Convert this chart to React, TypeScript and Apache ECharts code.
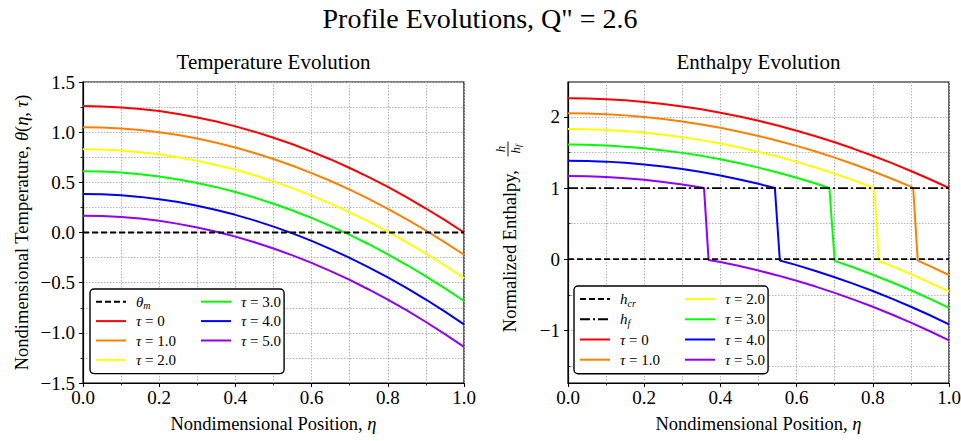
import React, { useEffect, useRef } from 'react';
import * as echarts from 'echarts';

const FONT = '"Liberation Serif", "Times New Roman", serif';

// ---------- data ----------
const etaGrid = [0, 0.05, 0.1, 0.15, 0.2, 0.25, 0.3, 0.35, 0.4, 0.45, 0.5, 0.55, 0.6, 0.65, 0.7, 0.75, 0.8, 0.85, 0.9, 0.95, 1.0];

const tauNames = ['τ = 0', 'τ = 1.0', 'τ = 2.0', 'τ = 3.0', 'τ = 4.0', 'τ = 5.0'];
const tauColors = ['#ff0000', '#ff8000', '#ffff00', '#00ff00', '#0000ff', '#8f00ff'];

// Temperature profiles theta(eta, tau) at etaGrid
const thetaTau0 = [1.26, 1.257, 1.247, 1.232, 1.21, 1.181, 1.147, 1.106, 1.058, 1.005, 0.945, 0.879, 0.806, 0.728, 0.643, 0.551, 0.454, 0.35, 0.239, 0.123, 0.0];
const thetaTau1 = [1.05, 1.047, 1.037, 1.021, 0.999, 0.971, 0.936, 0.894, 0.847, 0.792, 0.732, 0.665, 0.592, 0.513, 0.427, 0.335, 0.236, 0.131, 0.02, -0.098, -0.222];
const thetaTau2 = [0.83, 0.827, 0.817, 0.801, 0.779, 0.75, 0.714, 0.673, 0.625, 0.57, 0.509, 0.442, 0.368, 0.288, 0.201, 0.108, 0.008, -0.098, -0.21, -0.329, -0.454];
const thetaTau3 = [0.61, 0.607, 0.597, 0.581, 0.558, 0.529, 0.494, 0.452, 0.403, 0.348, 0.287, 0.219, 0.145, 0.064, -0.024, -0.117, -0.218, -0.324, -0.437, -0.557, -0.683];
const thetaTau4 = [0.384, 0.381, 0.371, 0.355, 0.332, 0.303, 0.267, 0.225, 0.176, 0.121, 0.059, -0.009, -0.084, -0.165, -0.253, -0.347, -0.447, -0.555, -0.668, -0.788, -0.915];
const thetaTau5 = [0.168, 0.165, 0.155, 0.139, 0.116, 0.086, 0.05, 0.008, -0.041, -0.097, -0.159, -0.228, -0.303, -0.385, -0.473, -0.568, -0.669, -0.777, -0.892, -1.013, -1.14];
const thetaSets = [thetaTau0, thetaTau1, thetaTau2, thetaTau3, thetaTau4, thetaTau5];

// Enthalpy profiles h/hf (positions and values)
const enthEtaTau0 = [0, 0.05, 0.1, 0.15, 0.2, 0.25, 0.3, 0.35, 0.4, 0.45, 0.5, 0.55, 0.6, 0.65, 0.7, 0.75, 0.8, 0.85, 0.9, 0.95, 1.0];
const enthTau0 = [2.26, 2.257, 2.247, 2.232, 2.21, 2.181, 2.147, 2.106, 2.058, 2.005, 1.945, 1.879, 1.806, 1.728, 1.643, 1.551, 1.454, 1.35, 1.239, 1.123, 1.0];
const enthEtaTau1 = [0, 0.05, 0.1, 0.15, 0.2, 0.25, 0.3, 0.35, 0.4, 0.45, 0.5, 0.55, 0.6, 0.65, 0.7, 0.75, 0.8, 0.85, 0.9, 0.906, 0.918, 0.95, 1.0];
const enthTau1 = [2.05, 2.047, 2.037, 2.021, 1.999, 1.971, 1.936, 1.894, 1.847, 1.792, 1.732, 1.665, 1.592, 1.513, 1.427, 1.335, 1.236, 1.131, 1.02, 1.0, -0.02, -0.098, -0.222];
const enthEtaTau2 = [0, 0.05, 0.1, 0.15, 0.2, 0.25, 0.3, 0.35, 0.4, 0.45, 0.5, 0.55, 0.6, 0.65, 0.7, 0.75, 0.8, 0.804, 0.816, 0.85, 0.9, 0.95, 1.0];
const enthTau2 = [1.83, 1.827, 1.817, 1.801, 1.779, 1.75, 1.714, 1.673, 1.625, 1.57, 1.509, 1.442, 1.368, 1.288, 1.201, 1.108, 1.008, 1.0, -0.025, -0.098, -0.21, -0.329, -0.454];
const enthEtaTau3 = [0, 0.05, 0.1, 0.15, 0.2, 0.25, 0.3, 0.35, 0.4, 0.45, 0.5, 0.55, 0.6, 0.65, 0.686, 0.7, 0.75, 0.8, 0.85, 0.9, 0.95, 1.0];
const enthTau3 = [1.61, 1.607, 1.597, 1.581, 1.558, 1.529, 1.494, 1.452, 1.403, 1.348, 1.287, 1.219, 1.145, 1.064, 1.0, -0.024, -0.117, -0.218, -0.324, -0.437, -0.557, -0.683];
const enthEtaTau4 = [0, 0.05, 0.1, 0.15, 0.2, 0.25, 0.3, 0.35, 0.4, 0.45, 0.5, 0.543, 0.556, 0.6, 0.65, 0.7, 0.75, 0.8, 0.85, 0.9, 0.95, 1.0];
const enthTau4 = [1.384, 1.381, 1.371, 1.355, 1.332, 1.303, 1.267, 1.225, 1.176, 1.121, 1.059, 1.0, -0.018, -0.084, -0.165, -0.253, -0.347, -0.447, -0.555, -0.668, -0.788, -0.915];
const enthEtaTau5 = [0, 0.05, 0.1, 0.15, 0.2, 0.25, 0.3, 0.35, 0.357, 0.369, 0.4, 0.45, 0.5, 0.55, 0.6, 0.65, 0.7, 0.75, 0.8, 0.85, 0.9, 0.95, 1.0];
const enthTau5 = [1.168, 1.165, 1.155, 1.139, 1.116, 1.086, 1.05, 1.008, 1.0, -0.01, -0.041, -0.097, -0.159, -0.228, -0.303, -0.385, -0.473, -0.568, -0.669, -0.777, -0.892, -1.013, -1.14];
const enthEtaSets = [enthEtaTau0, enthEtaTau1, enthEtaTau2, enthEtaTau3, enthEtaTau4, enthEtaTau5];
const enthSets = [enthTau0, enthTau1, enthTau2, enthTau3, enthTau4, enthTau5];

// reference lines
const refEta = [0, 1];
const thetaMelt = [0, 0];
const hCritical = [0, 0];
const hFusion = [1, 1];

// axes
const xTicksInterval = 0.2;
const tempYMin = -1.5;
const tempYMax = 1.5;
const enthYMin = -1.74;
const enthYMax = 2.49;
const enthMajorTicks = [-1, 0, 1, 2];
const enthMinorTicks = [-1.5, -0.5, 0.5, 1.5];

// ---------- styles ----------
const GRID_LINE = { color: '#b4b4b4', width: 1, type: [1.5, 1.5] as any };
const fmtMinus = (s: string) => s.replace('-', '\u2212');
const TICK_FS = 19;
const NAME_FS = 18.5;

const axisNameRich = {
  n: { fontFamily: FONT, fontSize: NAME_FS, color: '#000' },
  i: { fontFamily: FONT, fontSize: NAME_FS, fontStyle: 'italic', color: '#000' },
};

const xAxisFor = (gridIndex: number) => ({
  type: 'value',
  gridIndex,
  min: 0,
  max: 1,
  interval: xTicksInterval,
  axisLine: { show: true, onZero: false, lineStyle: { color: '#000', width: 1.2 } },
  axisTick: { show: true, inside: false, length: 4, lineStyle: { color: '#000', width: 1 } },
  minorTick: { show: true, splitNumber: 2, length: 2.5, lineStyle: { color: '#000', width: 0.8 } },
  splitLine: { show: true, lineStyle: GRID_LINE },
  minorSplitLine: { show: true, lineStyle: GRID_LINE },
  axisLabel: { fontFamily: FONT, fontSize: TICK_FS, color: '#000', margin: 5, formatter: (v: number) => v.toFixed(1) },
  name: '{n|Nondimensional Position, }{i|η}',
  nameLocation: 'middle',
  nameGap: 31,
  nameTextStyle: { rich: axisNameRich },
});

const legendRich = (lh: number) => ({
  i: { fontFamily: FONT, fontSize: 15, fontStyle: 'italic', color: '#000', lineHeight: lh },
  r: { fontFamily: FONT, fontSize: 15, color: '#000', lineHeight: lh },
  sub: { fontFamily: FONT, fontSize: 10, fontStyle: 'italic', color: '#000', verticalAlign: 'bottom', lineHeight: lh },
});

const legendFormatter = (name: string) => {
  if (name === 'θm') return '{i|θ}{sub|m}';
  if (name === 'hcr') return '{i|h}{sub|cr}';
  if (name === 'hf') return '{i|h}{sub|f}';
  return '{i|τ}{r|' + name.slice(1) + '}';
};

const makeLegend = (left: number, top: number, names: string[], firstColCount: number, rowH: number) => ({
  show: true,
  orient: 'vertical',
  left,
  top,
  height: rowH * 4 + 4,
  itemWidth: 30,
  itemHeight: 12,
  itemGap: 2,
  padding: [4, 3, 5, 5],
  backgroundColor: '#ffffff',
  borderColor: '#000000',
  borderWidth: 1.4,
  borderRadius: 4,
  selectedMode: false,
  itemStyle: { opacity: 0 },
  textStyle: { fontFamily: FONT, fontSize: 15, color: '#000', lineHeight: rowH - 2, padding: [0, 0, 0, 5], rich: legendRich(rowH - 2) },
  formatter: legendFormatter,
  data: names.map((n, i) => (i < firstColCount ? { name: n, textStyle: { width: 62 } } : { name: n })),
});

function buildOption() {
  const series: any[] = [];
  // left chart
  series.push({
    type: 'line', name: 'θm', xAxisIndex: 0, yAxisIndex: 0,
    data: refEta.map((x, i) => [x, thetaMelt[i]]),
    symbol: 'none', showSymbol: false, silent: true, z: 3,
    lineStyle: { color: '#000', width: 1.8, type: [6, 3] },
    itemStyle: { color: '#000' },
  });
  thetaSets.forEach((vals, k) => {
    series.push({
      type: 'line', name: tauNames[k], xAxisIndex: 0, yAxisIndex: 0,
      data: etaGrid.map((x, i) => [x, vals[i]]),
      symbol: 'none', showSymbol: false, silent: true, z: 2,
      lineStyle: { color: tauColors[k], width: 2 },
      itemStyle: { color: tauColors[k] },
    });
  });
  // right chart
  series.push({
    type: 'line', name: 'hcr', xAxisIndex: 1, yAxisIndex: 1,
    data: refEta.map((x, i) => [x, hCritical[i]]),
    symbol: 'none', showSymbol: false, silent: true, z: 3,
    lineStyle: { color: '#000', width: 1.8, type: [6, 3] },
    itemStyle: { color: '#000' },
  });
  series.push({
    type: 'line', name: 'hf', xAxisIndex: 1, yAxisIndex: 1,
    data: refEta.map((x, i) => [x, hFusion[i]]),
    symbol: 'none', showSymbol: false, silent: true, z: 3,
    lineStyle: { color: '#000', width: 1.8, type: [10, 3, 2, 3] },
    itemStyle: { color: '#000' },
  });
  enthSets.forEach((vals, k) => {
    const xs = enthEtaSets[k];
    series.push({
      type: 'line', name: tauNames[k], xAxisIndex: 1, yAxisIndex: 1,
      data: xs.map((x, i) => [x, vals[i]]),
      symbol: 'none', showSymbol: false, silent: true, z: 2,
      lineStyle: { color: tauColors[k], width: 2 },
      itemStyle: { color: tauColors[k] },
    });
  });

  return {
    animation: false,
    backgroundColor: '#ffffff',
    textStyle: { fontFamily: FONT },
    grid: [
      { left: 83, top: 82, width: 381, height: 301, show: true, borderColor: '#000', borderWidth: 1.2, backgroundColor: 'transparent', outerBoundsMode: 'none' },
      { left: 568, top: 82, width: 381, height: 301, show: true, borderColor: '#000', borderWidth: 1.2, backgroundColor: 'transparent', outerBoundsMode: 'none' },
    ],
    xAxis: [xAxisFor(0), xAxisFor(1)],
    yAxis: [
      {
        type: 'value', gridIndex: 0, min: tempYMin, max: tempYMax, interval: 0.5,
        axisLine: { show: true, onZero: false, lineStyle: { color: '#000', width: 1.2 } },
        axisTick: { show: true, inside: false, length: 4, lineStyle: { color: '#000', width: 1 } },
        minorTick: { show: true, splitNumber: 2, length: 2.5, lineStyle: { color: '#000', width: 0.8 } },
        splitLine: { show: true, lineStyle: GRID_LINE },
        minorSplitLine: { show: true, lineStyle: GRID_LINE },
        axisLabel: { fontFamily: FONT, fontSize: TICK_FS, color: '#000', margin: 8, formatter: (v: number) => fmtMinus(v.toFixed(1)) },
        name: '{n|Nondimensional Temperature, }{i|θ}{n|(}{i|η}{n|, }{i|τ}{n|)}',
        nameLocation: 'middle',
        nameGap: 51.5,
        nameTextStyle: { rich: axisNameRich },
      },
      {
        type: 'value', gridIndex: 1, min: enthYMin, max: enthYMax,
        axisLine: { show: true, onZero: false, lineStyle: { color: '#000', width: 1.2 } },
        axisTick: { show: true, inside: false, length: 4, customValues: enthMajorTicks, lineStyle: { color: '#000', width: 1 } },
        splitLine: { show: true, lineStyle: GRID_LINE },
        axisLabel: { fontFamily: FONT, fontSize: TICK_FS, color: '#000', margin: 8, customValues: enthMajorTicks, formatter: (v: number) => fmtMinus(String(Math.round(v))) },
      },
      {
        type: 'value', gridIndex: 1, min: enthYMin, max: enthYMax, splitNumber: 8,
        axisLine: { show: false },
        axisTick: { show: true, inside: false, length: 2.5, customValues: enthMinorTicks, lineStyle: { color: '#000', width: 0.8 } },
        splitLine: { show: true, lineStyle: GRID_LINE },
        axisLabel: { show: false },
      },
    ],
    legend: [
      makeLegend(90, 289, ['θm', ...tauNames], 4, 19.4),
      makeLegend(574, 286, ['hcr', 'hf', ...tauNames], 4, 20.2),
    ],
    graphic: [
      { type: 'text', x: 480, y: 18, style: { text: 'Profile Evolutions, Q" = 2.6', fill: '#000', fontFamily: FONT, fontSize: 28, align: 'center', verticalAlign: 'middle' } },
      { type: 'text', x: 273.5, y: 62, style: { text: 'Temperature Evolution', fill: '#000', fontFamily: FONT, fontSize: 21, align: 'center', verticalAlign: 'middle' } },
      { type: 'text', x: 758.5, y: 62, style: { text: 'Enthalpy Evolution', fill: '#000', fontFamily: FONT, fontSize: 21, align: 'center', verticalAlign: 'middle' } },
      { type: 'text', x: 510, y: 170, rotation: Math.PI / 2, style: { text: 'Normalized Enthalpy,', fill: '#000', fontFamily: FONT, fontSize: NAME_FS, align: 'right', verticalAlign: 'middle' } },
      {
        type: 'group', x: 508, y: 149, rotation: Math.PI / 2,
        children: [
          { type: 'text', x: 0, y: -7.5, style: { text: 'h', fill: '#000', fontFamily: FONT, fontSize: 13, fontStyle: 'italic', align: 'center', verticalAlign: 'middle' } },
          { type: 'line', shape: { x1: -7.5, y1: 0, x2: 7.5, y2: 0 }, style: { stroke: '#000', lineWidth: 0.9 } },
          {
            type: 'text', x: 0, y: 7.5,
            style: {
              text: '{i|h}{s|f}', fill: '#000', align: 'center', verticalAlign: 'middle',
              rich: {
                i: { fontFamily: FONT, fontSize: 13, fontStyle: 'italic', fill: '#000', lineHeight: 14 },
                s: { fontFamily: FONT, fontSize: 9, fontStyle: 'italic', fill: '#000', verticalAlign: 'bottom', lineHeight: 14 },
              },
            },
          },
        ],
      },
    ],
    series,
  };
}

export default function App() {
  const ref = useRef<HTMLDivElement>(null);
  useEffect(() => {
    if (!ref.current) return;
    const chart = echarts.init(ref.current, undefined, { renderer: 'svg' });
    chart.setOption(buildOption() as any);
    return () => chart.dispose();
  }, []);
  return <div ref={ref} style={{ position: 'absolute', left: 0, top: 0, width: 961, height: 441, background: '#fff' }} />;
}
